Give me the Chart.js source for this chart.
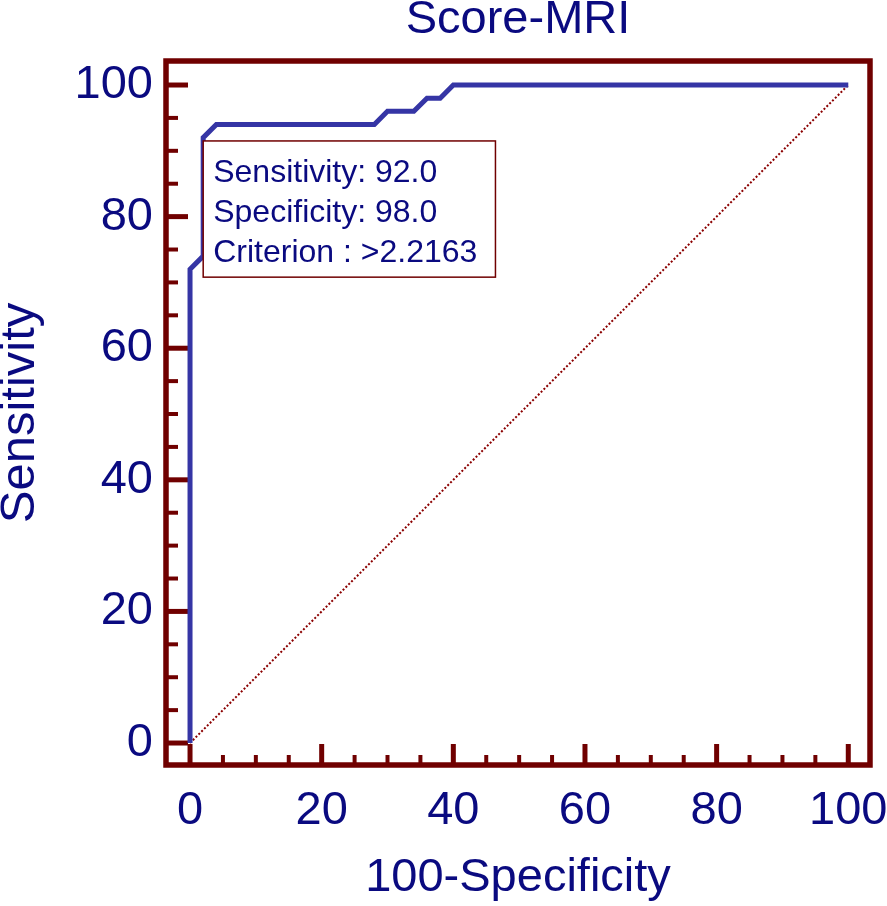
<!DOCTYPE html>
<html><head><meta charset="utf-8">
<script src="https://cdn.jsdelivr.net/npm/chart.js@4.4.0/dist/chart.umd.min.js"></script>
<style>html,body{margin:0;padding:0;background:#fff}#wrap{width:887px;height:906px;position:relative}</style>
</head><body><div id="wrap"><canvas id="c"></canvas></div>
<script>
// ---- data ----
const fprValues = [0, 0, 2, 2, 4, 28, 30, 34, 36, 38, 40, 100];
const tprValues = [0, 72, 74, 92, 94, 94, 96, 96, 98, 98, 100, 100];
const diagonalX = [0, 100];
const diagonalY = [0, 100];
const xTickValues = [0, 20, 40, 60, 80, 100];
const yTickValues = [0, 20, 40, 60, 80, 100];
const minorTickValues = [0,5,10,15,20,25,30,35,40,45,50,55,60,65,70,75,80,85,90,95,100];
const annotationLines = ['Sensitivity: 92.0', 'Specificity: 98.0', 'Criterion : >2.2163'];
const chartTitle = 'Score-MRI';
const xTitle = '100-Specificity';
const yTitle = 'Sensitivity';

// ---- styles ----
const NAVY = '#0a0a80';
const FRAME = '#700000';
const CURVE = '#3535a5';
const FONT = "'Liberation Sans', Arial, Helvetica, sans-serif";

const framePlugin = {
  id: 'frame',
  beforeDatasetsDraw(chart) {
    const {ctx, chartArea: a, scales: {x, y}} = chart;
    ctx.save();
    ctx.strokeStyle = FRAME;
    ctx.lineCap = 'butt';
    minorTickValues.forEach(v => {
      const major = xTickValues.includes(v);
      const px = x.getPixelForValue(v);
      ctx.lineWidth = major ? 5 : 4;
      ctx.beginPath(); ctx.moveTo(px, a.bottom); ctx.lineTo(px, a.bottom - (major ? 21 : 10)); ctx.stroke();
      const majorY = yTickValues.includes(v);
      const py = y.getPixelForValue(v);
      ctx.lineWidth = majorY ? 5 : 4;
      ctx.beginPath(); ctx.moveTo(a.left, py); ctx.lineTo(a.left + (majorY ? 22 : 12), py); ctx.stroke();
    });
    ctx.lineWidth = 5.5;
    ctx.strokeRect(a.left, a.top, a.right - a.left, a.bottom - a.top);
    ctx.restore();
  }
};

const annotationPlugin = {
  id: 'criterionBox',
  afterDatasetsDraw(chart) {
    const {ctx, scales: {x, y}} = chart;
    const left = x.getPixelForValue(2.0), right = x.getPixelForValue(46.4);
    const top = y.getPixelForValue(91.5), bottom = y.getPixelForValue(70.8);
    ctx.save();
    ctx.fillStyle = '#ffffff';
    ctx.fillRect(left, top, right - left, bottom - top);
    ctx.strokeStyle = FRAME;
    ctx.lineWidth = 1.5;
    ctx.strokeRect(left, top, right - left, bottom - top);
    ctx.fillStyle = NAVY;
    ctx.font = '32px ' + FONT;
    ctx.textAlign = 'left';
    ctx.textBaseline = 'alphabetic';
    annotationLines.forEach((t, i) => ctx.fillText(t, left + 10, top + 41 + i * 40));
    ctx.restore();
  }
};

const rocPoints = fprValues.map((v, i) => ({x: v, y: tprValues[i]}));
const diagPoints = diagonalX.map((v, i) => ({x: v, y: diagonalY[i]}));

new Chart(document.getElementById('c'), {
  type: 'line',
  data: {
    datasets: [
      {data: rocPoints, borderColor: CURVE, borderWidth: 5, pointRadius: 0, tension: 0, fill: false, order: 1, clip: false},
      {data: diagPoints, borderColor: '#8b0000', borderWidth: 2, borderDash: [2, 2], pointRadius: 0, fill: false, order: 2}
    ]
  },
  options: {
    responsive: true,
    maintainAspectRatio: false,
    animation: false,
    layout: {padding: {top: 0, right: 17, bottom: 0, left: 0}},
    plugins: {
      legend: {display: false},
      tooltip: {enabled: false},
      title: {
        display: true, text: chartTitle, color: NAVY, fullSize: false,
        font: {family: FONT, size: 47, weight: 'normal', lineHeight: 40/47},
        padding: {top: 0, bottom: 21}
      }
    },
    scales: {
      x: {
        type: 'linear', min: -3.65, max: 103.3,
        grid: {display: false, drawTicks: false}, border: {display: false},
        afterBuildTicks: s => { s.ticks = xTickValues.map(v => ({value: v})); },
        afterFit: s => { s.height = 141; s.paddingLeft = 0; s.paddingRight = 0; },
        ticks: {color: NAVY, font: {family: FONT, size: 47}, padding: 18, autoSkip: false, maxRotation: 0},
        title: {display: true, text: xTitle, color: NAVY, font: {family: FONT, size: 47, lineHeight: 1.2}, padding: {top: 0, bottom: 0}}
      },
      y: {
        type: 'linear', min: -3.34, max: 103.65,
        grid: {display: false, drawTicks: false}, border: {display: false},
        afterBuildTicks: s => { s.ticks = yTickValues.map(v => ({value: v})); },
        afterFit: s => { s.width = 166; s.paddingTop = 0; s.paddingBottom = 0; },
        ticks: {color: NAVY, font: {family: FONT, size: 47}, padding: 13, autoSkip: false},
        title: {display: true, text: yTitle, color: NAVY, font: {family: FONT, size: 49, lineHeight: 40/49}, padding: {top: 0, bottom: 0}}
      }
    }
  },
  plugins: [framePlugin, annotationPlugin]
});
</script></body></html>
